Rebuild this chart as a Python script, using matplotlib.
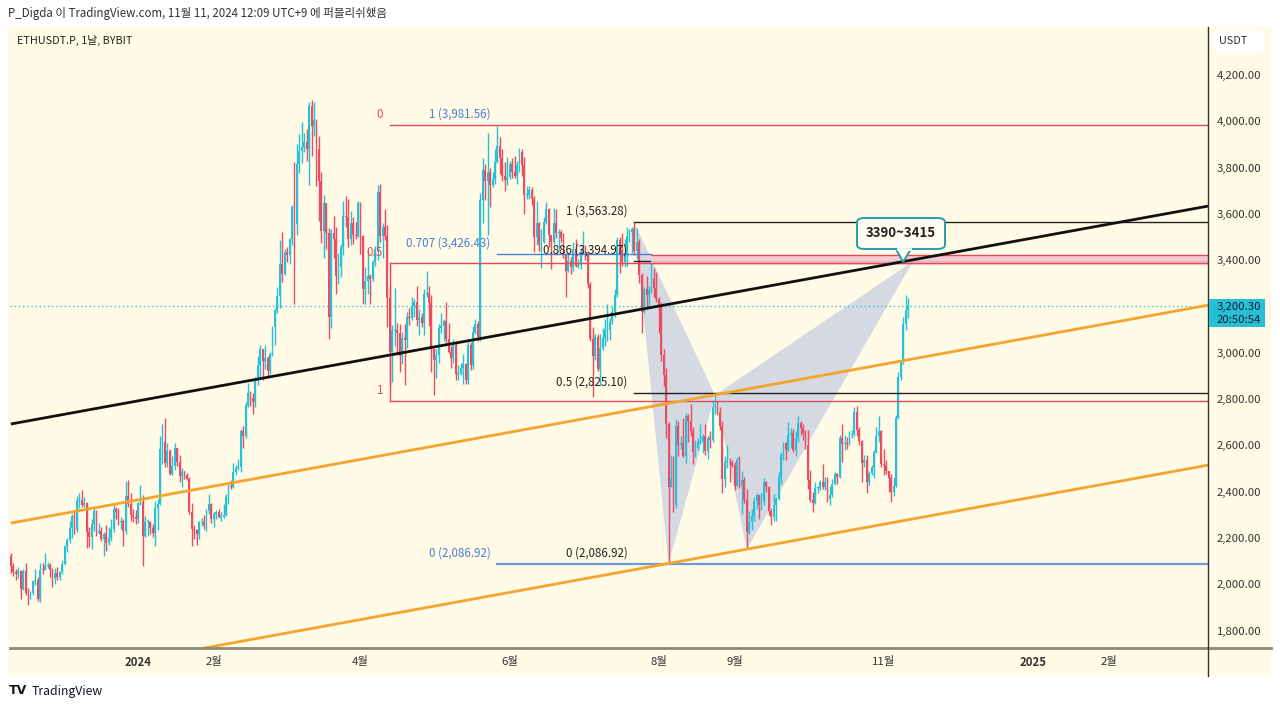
import datetime as dt
import numpy as np
import matplotlib
matplotlib.use("Agg")
import matplotlib.pyplot as plt
from matplotlib.patches import Rectangle, FancyBboxPatch, Polygon
from matplotlib.lines import Line2D

plt.rcParams['font.family'] = ['Noto Sans CJK KR', 'DejaVu Sans']

# ---------------- data (daily candles, ETHUSDT.P, BYBIT) ----------------
last_date = dt.date(2024, 11, 11)
first_open = 2120

closes = [
    # 2023-11 (10..30)
    2078, 2053, 2045, 2055, 1980, 2058, 1962, 1960, 1962, 2012, 2020, 1935, 2063, 2062, 2080, 2085, 2063, 2027, 2048, 2029, 2052,
    # 2023-12
    2088, 2165, 2193, 2242, 2293, 2232, 2358, 2362, 2342, 2352, 2225, 2202, 2260, 2315, 2220, 2228, 2195, 2218, 2178, 2200,
    2240, 2325, 2310, 2268, 2272, 2230, 2380, 2345, 2298, 2292, 2282,
    # 2024-01
    2352, 2357, 2210, 2268, 2268, 2241, 2222, 2330, 2345, 2585, 2616, 2525, 2577, 2475, 2510, 2588, 2528, 2467, 2490, 2471,
    2455, 2312, 2240, 2236, 2218, 2268, 2268, 2255, 2316, 2345, 2283,
    # 2024-02
    2303, 2310, 2290, 2290, 2298, 2375, 2425, 2420, 2485, 2500, 2505, 2660, 2640, 2775, 2825, 2805, 2785, 2880, 2945, 3015,
    2965, 2975, 2920, 2995, 3110, 3185, 3245, 3385, 3340,
    # 2024-03
    3435, 3420, 3490, 3630, 3555, 3815, 3870, 3890, 3910, 3880, 4065, 3980, 4005, 3880, 3740, 3525, 3645, 3515, 3155, 3515,
    3490, 3330, 3370, 3455, 3590, 3585, 3490, 3560, 3510, 3505, 3645,
    # 2024-04
    3505, 3275, 3310, 3330, 3320, 3390, 3450, 3695, 3505, 3545, 3505, 3235, 3005, 3100, 3100, 3085, 2985, 3065, 3055, 3155,
    3150, 3200, 3220, 3140, 3155, 3130, 3255, 3260, 3215, 3015,
    # 2024-05
    2970, 2990, 3105, 3115, 3135, 3060, 3005, 2975, 3035, 2910, 2910, 2935, 2950, 2880, 3035, 2945, 3090, 3125, 3070, 3660,
    3790, 3740, 3780, 3725, 3750, 3825, 3895, 3840, 3765, 3745, 3760,
    # 2024-06
    3815, 3780, 3765, 3810, 3865, 3810, 3680, 3680, 3705, 3665, 3500, 3560, 3470, 3480, 3565, 3620, 3510, 3480, 3560, 3515,
    3520, 3495, 3420, 3355, 3395, 3370, 3450, 3375, 3380, 3435,
    # 2024-07
    3440, 3420, 3295, 3060, 2985, 3070, 2930, 3020, 3065, 3100, 3100, 3135, 3175, 3250, 3485, 3445, 3390, 3425, 3505, 3520,
    3535, 3440, 3480, 3335, 3175, 3275, 3250, 3270, 3320, 3280, 3230,
    # 2024-08
    3200, 2990, 2905, 2690, 2420, 2460, 2340, 2685, 2600, 2610, 2555, 2725, 2705, 2660, 2570, 2590, 2615, 2615, 2640, 2575,
    2630, 2625, 2765, 2770, 2745, 2685, 2455, 2530, 2530, 2525, 2515,
    # 2024-09
    2425, 2535, 2425, 2450, 2365, 2225, 2270, 2295, 2360, 2385, 2340, 2360, 2440, 2420, 2315, 2290, 2340, 2370, 2465, 2560,
    2610, 2580, 2645, 2655, 2580, 2630, 2695, 2675, 2655, 2600,
    # 2024-10
    2450, 2365, 2350, 2415, 2415, 2440, 2420, 2440, 2370, 2385, 2435, 2475, 2465, 2630, 2605, 2610, 2605, 2645, 2650, 2745,
    2665, 2620, 2525, 2535, 2440, 2480, 2505, 2570, 2640, 2660, 2520,
    # 2024-11 (1..11)
    2515, 2490, 2460, 2400, 2425, 2720, 2895, 2960, 3125, 3185, 3200.30,
]

highs = [
    2135, 2090, 2065, 2075, 2060, 2065, 2090, 1985, 1970, 2015, 2065, 2030, 2090, 2090, 2135, 2095, 2090, 2070, 2070, 2075, 2055,
    2105, 2170, 2200, 2275, 2305, 2310, 2380, 2395, 2405, 2375, 2355, 2245, 2280, 2335, 2320, 2265, 2245, 2225, 2255, 2245,
    2280, 2345, 2335, 2330, 2290, 2280, 2445, 2450, 2395, 2325, 2320,
    2355, 2430, 2385, 2295, 2280, 2275, 2260, 2360, 2370, 2640, 2690, 2718, 2610, 2585, 2555, 2610, 2590, 2560, 2500, 2490,
    2480, 2465, 2350, 2255, 2240, 2275, 2285, 2300, 2325, 2390, 2350,
    2310, 2320, 2325, 2310, 2345, 2390, 2435, 2450, 2525, 2515, 2540, 2670, 2685, 2785, 2870, 2835, 2825, 2895, 2985, 3035,
    3015, 3035, 2985, 3005, 3115, 3195, 3285, 3485, 3520,
    3450, 3455, 3495, 3640, 3825, 3900, 3945, 3995, 3950, 3965, 4085, 4093, 4085, 4010, 3935, 3780, 3680, 3640, 3540, 3535,
    3590, 3545, 3430, 3470, 3655, 3675, 3665, 3610, 3585, 3565, 3655,
    3650, 3510, 3370, 3445, 3340, 3400, 3460, 3725, 3730, 3560, 3620, 3550, 3290, 3120, 3280, 3130, 3125, 3090, 3125, 3175,
    3195, 3240, 3230, 3290, 3190, 3170, 3275, 3355, 3290, 3250,
    3020, 3015, 3125, 3170, 3145, 3220, 3130, 3030, 3060, 3050, 2945, 2955, 2995, 2955, 3045, 3045, 3115, 3145, 3135, 3690,
    3840, 3815, 3950, 3800, 3780, 3880, 3981, 3930, 3880, 3825, 3845,
    3830, 3840, 3850, 3830, 3885, 3880, 3845, 3720, 3720, 3715, 3675, 3655, 3565, 3535, 3585, 3650, 3625, 3510, 3625, 3620,
    3535, 3530, 3515, 3430, 3430, 3415, 3480, 3490, 3405, 3450,
    3525, 3465, 3440, 3305, 3110, 3080, 3080, 3080, 3105, 3145, 3210, 3150, 3200, 3275, 3500, 3500, 3515, 3490, 3545, 3535,
    3545, 3563, 3540, 3490, 3345, 3285, 3330, 3290, 3400, 3365, 3350,
    3240, 3220, 3015, 2935, 2700, 2560, 2555, 2715, 2705, 2640, 2720, 2740, 2735, 2780, 2680, 2625, 2630, 2690, 2650, 2690,
    2645, 2660, 2795, 2817, 2790, 2765, 2705, 2555, 2600, 2545, 2535,
    2530, 2550, 2555, 2490, 2465, 2410, 2315, 2325, 2375, 2395, 2385, 2395, 2460, 2445, 2425, 2330, 2390, 2375, 2485, 2570,
    2615, 2615, 2700, 2675, 2670, 2660, 2728, 2705, 2690, 2665,
    2665, 2495, 2400, 2440, 2425, 2450, 2520, 2465, 2465, 2425, 2455, 2485, 2480, 2645, 2690, 2645, 2635, 2660, 2665, 2766,
    2770, 2680, 2625, 2560, 2560, 2490, 2515, 2580, 2680, 2725, 2665,
    2585, 2535, 2490, 2475, 2465, 2730, 2915, 2970, 3155, 3250, 3235,
]

lows = [
    2050, 2035, 2020, 2025, 1935, 1975, 1955, 1910, 1935, 1955, 1995, 1928, 1925, 2045, 2060, 2070, 2030, 1990, 2000, 2020, 2020,
    2045, 2085, 2140, 2180, 2200, 2215, 2225, 2330, 2335, 2335, 2155, 2160, 2150, 2230, 2210, 2215, 2185, 2120, 2145, 2170,
    2185, 2225, 2280, 2255, 2240, 2165, 2215, 2335, 2275, 2270, 2260,
    2265, 2340, 2080, 2205, 2210, 2215, 2205, 2165, 2235, 2340, 2520, 2505, 2505, 2470, 2470, 2495, 2510, 2440, 2420, 2455,
    2450, 2305, 2165, 2195, 2170, 2195, 2250, 2240, 2230, 2305, 2265,
    2245, 2280, 2285, 2275, 2285, 2295, 2345, 2410, 2415, 2470, 2495, 2485, 2590, 2630, 2765, 2770, 2735, 2765, 2860, 2885,
    2880, 2930, 2900, 2910, 2985, 3035, 3170, 3195, 3305,
    3335, 3390, 3385, 3465, 3210, 3510, 3775, 3820, 3865, 3830, 3725, 3850, 3935, 3720, 3570, 3475, 3410, 3450, 3060, 3105,
    3410, 3255, 3295, 3325, 3420, 3545, 3455, 3465, 3470, 3490, 3500,
    3425, 3210, 3210, 3255, 3210, 3310, 3375, 3400, 3480, 3410, 3485, 3110, 2855, 2875, 3030, 2990, 2915, 2950, 2860, 3020,
    3120, 3140, 3155, 3115, 3075, 3110, 3075, 3240, 3115, 2915,
    2817, 2890, 2955, 3085, 3050, 3040, 3000, 2935, 2955, 2880, 2880, 2905, 2865, 2865, 2865, 2925, 2930, 3080, 3050, 3050,
    3560, 3660, 3510, 3630, 3715, 3730, 3820, 3770, 3740, 3700, 3725,
    3750, 3755, 3755, 3730, 3780, 3765, 3600, 3665, 3665, 3640, 3435, 3465, 3440, 3365, 3475, 3555, 3455, 3360, 3470, 3495,
    3445, 3480, 3410, 3240, 3350, 3340, 3355, 3370, 3365, 3360,
    3425, 3400, 3280, 3050, 2810, 2970, 2920, 2860, 3010, 3030, 3050, 3055, 3125, 3155, 3240, 3345, 3375, 3370, 3375, 3480,
    3430, 3420, 3405, 3300, 3085, 3170, 3190, 3195, 3260, 3240, 3220,
    3085, 2965, 2855, 2630, 2087, 2420, 2310, 2330, 2555, 2585, 2550, 2525, 2615, 2640, 2520, 2550, 2580, 2605, 2565, 2560,
    2540, 2590, 2615, 2735, 2730, 2665, 2395, 2420, 2500, 2440, 2505,
    2405, 2425, 2415, 2305, 2350, 2150, 2215, 2235, 2275, 2325, 2280, 2320, 2340, 2400, 2300, 2255, 2275, 2275, 2365, 2435,
    2535, 2535, 2575, 2590, 2570, 2555, 2615, 2645, 2625, 2585,
    2410, 2355, 2310, 2345, 2395, 2405, 2410, 2405, 2355, 2340, 2375, 2430, 2435, 2460, 2530, 2580, 2585, 2600, 2630, 2640,
    2640, 2600, 2440, 2505, 2395, 2430, 2470, 2460, 2565, 2615, 2505,
    2470, 2475, 2400, 2357, 2380, 2420, 2715, 2880, 2950, 3100, 3150,
]

last_price = 3200.30
countdown = "20:50:54"

# axis ticks
y_ticks = [1800, 2000, 2200, 2400, 2600, 2800, 3000, 3200, 3400, 3600, 3800, 4000, 4200]
x_tick_dates = ["2024-01-01", "2024-02-01", "2024-04-01", "2024-06-01", "2024-08-01",
                "2024-09-01", "2024-11-01", "2025-01-01", "2025-02-01"]
x_tick_labels = ["2024", "2월", "4월", "6월", "8월", "9월", "11월", "2025", "2월"]
x_tick_bold = [True, False, False, False, False, False, False, True, False]

# drawings (date, price)
trend_black = [("2023-11-10", 2692), ("2025-03-14", 3634)]
channel_upper = [("2023-11-10", 2264), ("2025-03-14", 3206)]
channel_lower = [("2024-01-28", 1724), ("2025-03-14", 2515)]

red_fib_start = "2024-04-13"
red_fib_levels = [("0", 3981.56), ("0.5", 3385.78), ("1", 2790.0)]
blue_fib_start = "2024-05-27"
blue_fib_levels = [("1 (3,981.56)", 3981.56), ("0.707 (3,426.43)", 3426.43), ("0 (2,086.92)", 2086.92)]
blue_0707_end = "2024-07-29"
black_fib_start = "2024-07-22"
black_fib_levels = [("1 (3,563.28)", 3563.28), ("0.886 (3,394.97)", 3394.97),
                    ("0.5 (2,825.10)", 2825.10), ("0 (2,086.92)", 2086.92)]

zone_start = "2024-07-29"
zone_low, zone_high = 3388, 3422
zone_label = "3390~3415"

pattern_x = ("2024-07-22", 3563)
pattern_a = ("2024-08-05", 2087)
pattern_b = ("2024-08-24", 2817)
pattern_c = ("2024-09-06", 2150)
pattern_d = ("2024-11-13", 3395)

# ---------------- helpers ----------------
REF = dt.date(2024, 1, 1)


def dnum(s):
    return (dt.date.fromisoformat(s) - REF).days


W, H = 1280, 709
fig = plt.figure(figsize=(W / 100, H / 100), dpi=100)
fig.patch.set_facecolor("white")


def fx(px):
    return px / W


def fy(py):
    return 1 - py / H


BG = "#FFFBE6"
UP = "#26C1D6"
DOWN = "#EE4A62"
RED = "#E3485E"
BLUE = "#4A7FD4"
TEAL = "#2A9DAA"

# chart panel background
fig.add_artist(Rectangle((fx(8), fy(676)), fx(1271) - fx(8), fy(27) - fy(676),
                         transform=fig.transFigure, facecolor=BG, edgecolor="none", zorder=-10))

PX_PER_DAY = 2.445
X0_PX = 138  # pixel of 2024-01-01
ax = fig.add_axes([fx(10), fy(648), fx(1208) - fx(10), fy(27) - fy(648)])
ax.set_facecolor("none")
ax.set_xlim((10 - X0_PX) / PX_PER_DAY, (1208 - X0_PX) / PX_PER_DAY)
ax.set_ylim(1724.4, 4407.0)
for s in ax.spines.values():
    s.set_visible(False)

# ---------------- candles ----------------
n = len(closes)
c = np.array(closes, dtype=float)
h = np.array(highs, dtype=float)
l = np.array(lows, dtype=float)
o = np.r_[first_open, c[:-1]]
last_day = (last_date - REF).days
days = np.arange(last_day - n + 1, last_day + 1)
h = np.maximum(h, np.maximum(o, c))
l = np.minimum(l, np.minimum(o, c))
up = c >= o
cols = np.where(up, UP, DOWN)

ax.vlines(days, l, h, colors=cols, linewidth=1.0, zorder=3)
body_lo = np.minimum(o, c)
body_h = np.maximum(np.abs(c - o), 4)
ax.bar(days, body_h, bottom=body_lo, width=0.75, color=cols, linewidth=0, zorder=4)

# ---------------- harmonic pattern ----------------
P = [pattern_x, pattern_a, pattern_b, pattern_c, pattern_d]
pts = [(dnum(d), p) for d, p in P]
ax.add_patch(Polygon([pts[0], pts[1], pts[2]], closed=True, facecolor="#CDD3E2", edgecolor="none",
                     alpha=0.85, zorder=2))
ax.add_patch(Polygon([pts[2], pts[3], pts[4]], closed=True, facecolor="#CDD3E2", edgecolor="none",
                     alpha=0.85, zorder=2))

xmax = ax.get_xlim()[1]
LAB_FS = 8.3

# ---------------- fib levels ----------------
rs = dnum(red_fib_start)
for lab, lv in red_fib_levels:
    ax.plot([rs, xmax], [lv, lv], color=RED, lw=1.0, zorder=5)
    ax.annotate(lab, (rs, lv), xytext=(-5, 8), textcoords="offset points", ha="right", va="center",
                color=RED, fontsize=LAB_FS, zorder=6)
ax.plot([rs, rs], [red_fib_levels[1][1], red_fib_levels[2][1]], color=RED, lw=1.0, zorder=5)

bs = dnum(blue_fib_start)
ax.plot([bs, dnum(blue_0707_end)], [blue_fib_levels[1][1]] * 2, color=BLUE, lw=1.0, zorder=5)
ax.plot([bs, xmax], [blue_fib_levels[2][1]] * 2, color="#6E98DA", lw=1.6, zorder=5)
for lab, lv in blue_fib_levels:
    ax.annotate(lab, (bs, lv), xytext=(-5, 8), textcoords="offset points", ha="right", va="center",
                color=BLUE, fontsize=LAB_FS, zorder=6)

ks = dnum(black_fib_start)
for lab, lv in black_fib_levels[:3]:
    ax.plot([ks, xmax], [lv, lv], color="#222222", lw=1.0, zorder=5)
for lab, lv in black_fib_levels:
    ax.annotate(lab, (ks, lv), xytext=(-5, 8), textcoords="offset points", ha="right", va="center",
                color="#222222", fontsize=LAB_FS, zorder=6)

# zone
zs = dnum(zone_start)
ax.add_patch(Rectangle((zs, zone_low), xmax - zs, zone_high - zone_low, facecolor="#F7C6CD",
                       edgecolor="none", alpha=0.9, zorder=5.5))
ax.plot([zs, xmax], [zone_low, zone_low], color=RED, lw=1.0, zorder=5.6)
ax.plot([zs, xmax], [zone_high, zone_high], color=RED, lw=1.0, zorder=5.6)

# ---------------- trend lines ----------------
for line, col in [(channel_upper, "#F5A52E"), (channel_lower, "#F5A52E"), (trend_black, "#111111")]:
    ax.plot([dnum(line[0][0]), dnum(line[1][0])], [line[0][1], line[1][1]], color=col, lw=2.0,
            zorder=7, solid_capstyle="butt")

# last price dotted line
ax.axhline(last_price, color="#3CBFD0", lw=1.0, ls=(0, (1, 2)), zorder=2.5)

# ---------------- axes ticks ----------------
ax.yaxis.tick_right()
ax.set_yticks(y_ticks)
ax.set_yticklabels([f"{v:,.2f}" for v in y_ticks])
ax.tick_params(axis="y", length=0, pad=6.5, labelsize=8.2, labelcolor="#333333")
ax.set_xticks([dnum(d) for d in x_tick_dates])
ax.set_xticklabels(x_tick_labels)
ax.tick_params(axis="x", length=0, pad=5.5, labelsize=8.2, labelcolor="#333333")
for t, b in zip(ax.get_xticklabels(), x_tick_bold):
    if b:
        t.set_fontweight("bold")

# axis lines
fig.add_artist(Line2D([fx(10), fx(1271)], [fy(648), fy(648)], transform=fig.transFigure,
                      color="#8C8878", lw=2.0, zorder=8))
fig.add_artist(Line2D([fx(1208), fx(1208)], [fy(27), fy(676)], transform=fig.transFigure,
                      color="#333333", lw=1.0, zorder=8))

# price label box
fig.add_artist(Rectangle((fx(1209), fy(327)), fx(1265) - fx(1209), fy(299) - fy(327),
                         transform=fig.transFigure, facecolor="#27BFD3", edgecolor="none", zorder=9))
fig.text(fx(1217), fy(306.5), f"{last_price:,.2f}", ha="left", va="center", fontsize=8.2,
         color="#10203A", zorder=10)
fig.text(fx(1217), fy(319.5), countdown, ha="left", va="center", fontsize=8.2, color="#10203A", zorder=10)

# USDT button
fig.add_artist(FancyBboxPatch((fx(1213), fy(52)), fx(1264) - fx(1213), fy(31) - fy(52),
                              boxstyle="round,pad=0,rounding_size=0.004", transform=fig.transFigure,
                              facecolor="white", edgecolor="none", zorder=9))
fig.text(fx(1233), fy(41.5), "USDT", ha="center", va="center", fontsize=7.8, color="#333333", zorder=10)

# callout box
L, R, T, B = 857, 945, 218, 249
fig.add_artist(FancyBboxPatch((fx(L), fy(B)), fx(R) - fx(L), fy(T) - fy(B),
                              boxstyle="round,pad=0,rounding_size=0.006", transform=fig.transFigure,
                              facecolor="#FFFDF2", edgecolor=TEAL, lw=1.4, zorder=11))
fig.add_artist(Polygon([(fx(896), fy(B)), (fx(903), fy(262)), (fx(911), fy(B))], closed=False,
                       transform=fig.transFigure, facecolor="#FFFDF2", edgecolor=TEAL, lw=1.4, zorder=12))
fig.add_artist(Line2D([fx(897.5), fx(909.5)], [fy(B), fy(B)], transform=fig.transFigure,
                      color="#FFFDF2", lw=2.0, zorder=13))
fig.text(fx(901), fy(233), zone_label, ha="center", va="center", fontsize=9.5, fontweight="bold",
         color="#222222", zorder=14)

# header & symbol
fig.text(fx(8), fy(13), "P_Digda 이 TradingView.com, 11월 11, 2024 12:09 UTC+9 에 퍼블리쉬했음",
         ha="left", va="center", fontsize=8.3, color="#333333")
fig.text(fx(17), fy(40), "ETHUSDT.P, 1날, BYBIT", ha="left", va="center", fontsize=7.8, color="#222222")

# footer logo
fig.text(fx(9), fy(691), "TV", ha="left", va="center", fontsize=9, fontweight="heavy", color="#131722",
         family="DejaVu Sans")
fig.text(fx(32), fy(691), "TradingView", ha="left", va="center", fontsize=8.8, color="#131722")

fig.savefig("out.png", dpi=100, facecolor="white")
